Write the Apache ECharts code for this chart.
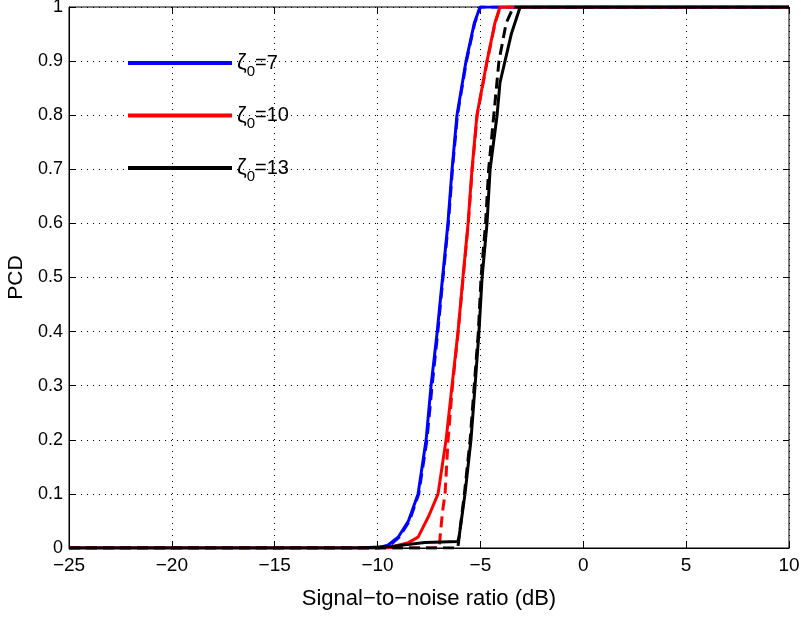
<!DOCTYPE html>
<html>
<head>
<meta charset="utf-8">
<script src="https://cdn.jsdelivr.net/npm/echarts@6/dist/echarts.min.js"></script>
<style>
  html, body { margin: 0; padding: 0; background: #ffffff; }
  #chart { width: 801px; height: 617px; }
</style>
</head>
<body>
<div id="chart"></div>
<script>
// Axis ticks
const xTicks = [-25, -20, -15, -10, -5, 0, 5, 10];
const yTicks = [0, 0.1, 0.2, 0.3, 0.4, 0.5, 0.6, 0.7, 0.8, 0.9, 1];

// Threshold values shown in the legend
const zetaValues = ['7', '10', '13'];

// PCD versus SNR (dB): [snr, pcd] pairs
const zeta7Solid = [
  [-25, 0], [-10, 0], [-9.5, 0.005], [-9.0, 0.02], [-8.5, 0.05], [-8.03, 0.1],
  [-7.64, 0.2], [-7.4, 0.3], [-7.1, 0.4], [-6.84, 0.5], [-6.58, 0.6],
  [-6.38, 0.7], [-6.14, 0.8], [-5.7, 0.9], [-5.3, 0.97], [-5.02, 1], [10, 1]
];
const zeta7Dashed = [
  [-25, 0], [-9.9, 0], [-9.4, 0.005], [-8.95, 0.02], [-8.45, 0.05], [-8.0, 0.1],
  [-7.6, 0.2], [-7.35, 0.3], [-7.07, 0.4], [-6.82, 0.5], [-6.56, 0.6],
  [-6.36, 0.7], [-6.12, 0.8], [-5.68, 0.9], [-5.28, 0.97], [-5.0, 1], [10, 1]
];
const zeta10Solid = [
  [-25, 0], [-9.5, 0], [-9.0, 0.005], [-8.5, 0.01], [-8.03, 0.02], [-7.5, 0.06],
  [-7.06, 0.1], [-6.67, 0.2], [-6.38, 0.3], [-6.09, 0.4], [-5.85, 0.5],
  [-5.6, 0.6], [-5.41, 0.7], [-5.17, 0.8], [-4.68, 0.9], [-4.3, 0.97], [-4.05, 1], [10, 1]
];
const zeta10Dashed = [
  [-25, 0], [-7.0, 0], [-6.96, 0.02], [-6.85, 0.065], [-6.72, 0.1], [-6.57, 0.2],
  [-6.36, 0.3], [-6.08, 0.4], [-5.84, 0.5], [-5.59, 0.6], [-5.4, 0.7],
  [-5.16, 0.8], [-4.67, 0.9], [-4.29, 0.97], [-4.04, 1], [10, 1]
];
const zeta13Solid = [
  [-25, 0], [-11, 0], [-9.3, 0.003], [-7.7, 0.01], [-6.1, 0.012], [-6.04, 0.02],
  [-5.75, 0.1], [-5.46, 0.2], [-5.26, 0.3], [-5.07, 0.4], [-4.92, 0.5],
  [-4.68, 0.6], [-4.53, 0.7], [-4.19, 0.8], [-4.05, 0.86], [-3.5, 0.95], [-3.07, 1], [10, 1]
];
const zeta13Dashed = [
  [-25, 0], [-6.1, 0], [-5.78, 0.1], [-5.5, 0.2], [-5.3, 0.3], [-5.1, 0.4],
  [-4.97, 0.5], [-4.75, 0.6], [-4.6, 0.7], [-4.35, 0.8], [-4.1, 0.9],
  [-3.75, 0.97], [-3.4, 1], [10, 1]
];

const colors = ['#0000ff', '#ff0000', '#000000'];
const solidSets = [zeta7Solid, zeta10Solid, zeta13Solid];
const dashedSets = [zeta7Dashed, zeta10Dashed, zeta13Dashed];
const names = zetaValues.map(v => 'zeta' + v);

const FONT = '"Liberation Sans", Arial, Helvetica, sans-serif';
const minus = s => String(s).replace('-', '\u2212');

const series = [];
solidSets.forEach((d, i) => {
  series.push({
    name: names[i], type: 'line', data: d, showSymbol: false, symbol: 'none',
    lineStyle: { color: colors[i], width: 3 }, itemStyle: { color: colors[i] },
    z: 2 + i, animation: false
  });
});
dashedSets.forEach((d, i) => {
  series.push({
    name: names[i] + '_dash', type: 'line', data: d, showSymbol: false, symbol: 'none',
    lineStyle: { color: colors[i], width: 3, type: [11, 6] }, itemStyle: { color: colors[i] },
    z: 2 + i, animation: false
  });
});

const tickStyle = { show: true, inside: true, length: 6, lineStyle: { color: '#000' } };

const chart = echarts.init(document.getElementById('chart'), null, { renderer: 'canvas' });
chart.setOption({
  backgroundColor: '#ffffff',
  animation: false,
  textStyle: { fontFamily: FONT, color: '#000' },
  grid: {
    left: 69, top: 7, width: 720, height: 541,
    outerBoundsMode: 'none', containLabel: false,
    show: true, borderColor: '#000', borderWidth: 1, backgroundColor: 'transparent'
  },
  legend: {
    data: names,
    orient: 'vertical',
    left: 128, top: 52, padding: 0,
    itemWidth: 104, itemHeight: 4, itemGap: 25.5,
    icon: 'rect',
    selectedMode: false,
    formatter: name => '{z|\u03b6}{s|0}{v|=' + name.replace('zeta', '') + '}',
    textStyle: {
      fontFamily: FONT, color: '#000',
      rich: {
        z: { fontSize: 22, fontFamily: FONT, color: '#000', lineHeight: 32, verticalAlign: 'middle' },
        s: { fontSize: 15, fontFamily: FONT, color: '#000', lineHeight: 15, verticalAlign: 'bottom' },
        v: { fontSize: 20, fontFamily: FONT, color: '#000', lineHeight: 32, verticalAlign: 'middle' }
      }
    }
  },
  xAxis: [{
    type: 'value', min: -25, max: 10, interval: 5,
    name: 'Signal\u2212to\u2212noise ratio (dB)', nameLocation: 'middle', nameGap: 40,
    nameTextStyle: { fontSize: 22, fontFamily: FONT, color: '#000' },
    axisLine: { show: true, onZero: false, lineStyle: { color: '#000', width: 1 } },
    axisTick: tickStyle,
    axisLabel: {
      fontSize: 19, fontFamily: FONT, color: '#000', margin: 8,
      formatter: v => xTicks.indexOf(v) >= 0 ? minus(v) : ''
    },
    splitLine: { show: true, lineStyle: { color: '#000', width: 1, type: [1, 5] } }
  }, {
    type: 'value', min: -25, max: 10, interval: 5, position: 'top',
    axisLine: { show: false, onZero: false }, axisLabel: { show: false }, splitLine: { show: false },
    axisTick: tickStyle
  }],
  yAxis: [{
    type: 'value', min: 0, max: 1, interval: 0.1,
    name: 'PCD', nameLocation: 'middle', nameGap: 40,
    nameTextStyle: { fontSize: 21, fontFamily: FONT, color: '#000' },
    axisLine: { show: true, onZero: false, lineStyle: { color: '#000', width: 1 } },
    axisTick: tickStyle,
    axisLabel: {
      fontSize: 18, fontFamily: FONT, color: '#000', margin: 6,
      formatter: v => {
        const t = yTicks.find(k => Math.abs(k - v) < 1e-9);
        return t === undefined ? '' : String(t);
      }
    },
    splitLine: { show: true, lineStyle: { color: '#000', width: 1, type: [1, 5] } }
  }, {
    type: 'value', min: 0, max: 1, interval: 0.1, position: 'right',
    axisLine: { show: false, onZero: false }, axisLabel: { show: false }, splitLine: { show: false },
    axisTick: tickStyle
  }],
  series: series
});
</script>
</body>
</html>
